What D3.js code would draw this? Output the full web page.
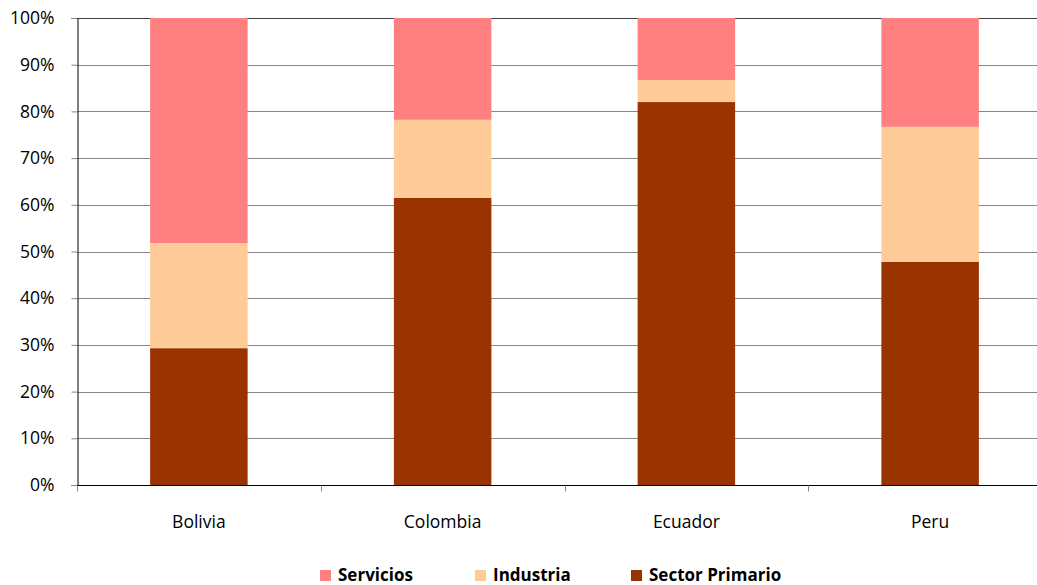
<!DOCTYPE html>
<html>
<head>
<meta charset="utf-8">
<script src="https://cdn.jsdelivr.net/npm/d3@7"></script>
<style>
  body { margin: 0; background: #fff; }
  svg text { font-family: "Open Sans", "Noto Sans", sans-serif; fill: #000; }
</style>
</head>
<body>
<div id="chart"></div>
<script>
// ----------------------------------------------
// Data (shares, percent)
// ----------------------------------------------
const countries = ['Bolivia', 'Colombia', 'Ecuador', 'Peru'];
const sectorPrimario = [29.3, 61.5, 82.0, 47.8];
const industria = [22.5, 16.7, 4.7, 28.9];
const servicios = [48.2, 21.8, 13.3, 23.3];
const yTicks = [0, 10, 20, 30, 40, 50, 60, 70, 80, 90, 100];

const seriesNames = ['Sector Primario', 'Industria', 'Servicios'];
const seriesColors = {
  'Sector Primario': '#993300',
  'Industria': '#FFCC99',
  'Servicios': '#FF8080'
};

const width = 1037, height = 585;
const margin = { top: 18, right: -15, bottom: 100, left: 77 };

const svg = d3.select('#chart').append('svg')
  .attr('width', width)
  .attr('height', height);

const x = d3.scaleBand()
  .domain(countries)
  .range([margin.left, width - margin.right])
  .paddingInner(0.6)
  .paddingOuter(0.3);

const y = d3.scaleLinear()
  .domain([0, 100])
  .range([height - margin.bottom, margin.top]);

// gridlines
svg.append('g')
  .selectAll('line')
  .data(yTicks.filter(d => d > 0))
  .join('line')
  .attr('x1', margin.left)
  .attr('x2', width - margin.right)
  .attr('y1', d => Math.round(y(d)) + 0.5)
  .attr('y2', d => Math.round(y(d)) + 0.5)
  .attr('stroke', d => d === 100 ? '#404040' : '#868686')
  .attr('stroke-width', 1);

// stacked bars
const table = countries.map((c, i) => ({
  country: c,
  'Sector Primario': sectorPrimario[i],
  'Industria': industria[i],
  'Servicios': servicios[i]
}));
const stacked = d3.stack().keys(seriesNames)(table);

svg.append('g')
  .selectAll('g')
  .data(stacked)
  .join('g')
  .attr('fill', d => seriesColors[d.key])
  .selectAll('rect')
  .data(d => d)
  .join('rect')
  .attr('x', d => x(d.data.country))
  .attr('width', x.bandwidth())
  .attr('y', d => y(d[1]))
  .attr('height', d => y(d[0]) - y(d[1]));

// y axis
const yAxis = svg.append('g')
  .attr('transform', `translate(${margin.left + 0.5},0)`)
  .call(d3.axisLeft(y).tickValues(yTicks).tickFormat(d => d + '%').tickSize(6).tickPadding(17));
yAxis.select('.domain').attr('stroke', '#000');
yAxis.selectAll('.tick line').attr('stroke', '#868686');
yAxis.selectAll('text').style('font-size', '17.5px');

// x axis
const xBase = Math.round(y(0)) + 0.5;
svg.append('line')
  .attr('x1', margin.left)
  .attr('x2', width)
  .attr('y1', xBase)
  .attr('y2', xBase)
  .attr('stroke', '#000');

const boundaries = d3.range(countries.length + 1).map(i => margin.left + i * (width - margin.right - margin.left) / countries.length);
svg.append('g')
  .selectAll('line')
  .data(boundaries)
  .join('line')
  .attr('x1', d => Math.round(d) + 0.5)
  .attr('x2', d => Math.round(d) + 0.5)
  .attr('y1', xBase)
  .attr('y2', xBase + 6)
  .attr('stroke', '#868686');

svg.append('g')
  .selectAll('text')
  .data(countries)
  .join('text')
  .attr('x', d => x(d) + x.bandwidth() / 2)
  .attr('y', xBase + 42)
  .attr('text-anchor', 'middle')
  .style('font-size', '17.5px')
  .text(d => d);

// legend
const legendItems = [
  { name: 'Servicios', x: 320 },
  { name: 'Industria', x: 475 },
  { name: 'Sector Primario', x: 631 }
];
const lg = svg.append('g')
  .selectAll('g')
  .data(legendItems)
  .join('g')
  .attr('transform', d => `translate(${d.x},570)`);
lg.append('rect')
  .attr('width', 11)
  .attr('height', 11)
  .attr('fill', d => seriesColors[d.name]);
lg.append('text')
  .attr('x', 18)
  .attr('y', 11)
  .style('font-size', '17px')
  .style('font-weight', 'bold')
  .text(d => d.name);
</script>
</body>
</html>
